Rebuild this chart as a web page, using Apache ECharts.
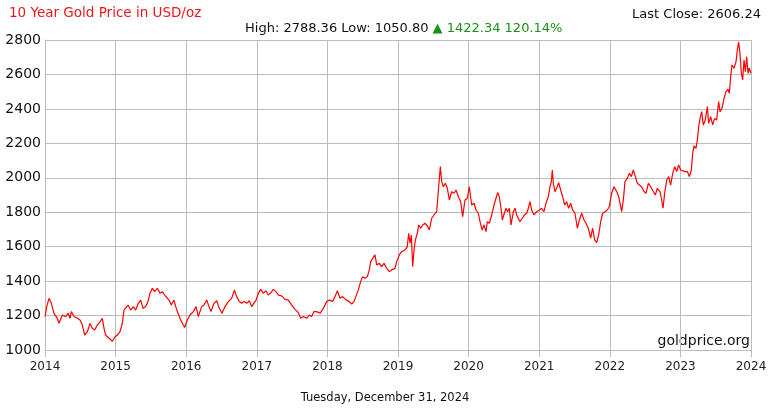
<!DOCTYPE html>
<html>
<head>
<meta charset="utf-8">
<script src="https://cdn.jsdelivr.net/npm/echarts@6/dist/echarts.min.js"></script>
<style>
html,body{margin:0;padding:0;background:#fff;}
#c{width:770px;height:410px;}
</style>
</head>
<body>
<div id="c"></div>
<script>
var chartTitle = '10 Year Gold Price in USD/oz';
var statsBlack = 'High: 2788.36 Low: 1050.80 ';
var statsGreen = '\u25B2 1422.34 120.14%';
var lastCloseText = 'Last Close: 2606.24';
var dateText = 'Tuesday, December 31, 2024';
var watermark = 'goldprice.org';
var xTickLabels = ['2014','2015','2016','2017','2018','2019','2020','2021','2022','2023','2024'];
var yTickLabels = ['1000','1200','1400','1600','1800','2000','2200','2400','2600','2800'];

var years = [
2014.000,2014.024,2014.057,2014.090,2014.128,2014.175,2014.198,2014.246,2014.293,2014.326,
2014.354,2014.373,2014.411,2014.458,2014.496,2014.529,2014.562,2014.600,2014.637,2014.670,
2014.704,2014.741,2014.779,2014.812,2014.836,2014.859,2014.907,2014.954,2014.992,2015.025,
2015.062,2015.095,2015.119,2015.143,2015.176,2015.213,2015.251,2015.284,2015.322,2015.355,
2015.388,2015.426,2015.459,2015.487,2015.520,2015.553,2015.591,2015.629,2015.662,2015.695,
2015.723,2015.756,2015.789,2015.827,2015.851,2015.884,2015.922,2015.959,2015.978,2016.016,
2016.054,2016.101,2016.139,2016.172,2016.219,2016.252,2016.290,2016.323,2016.351,2016.394,
2016.432,2016.469,2016.507,2016.550,2016.597,2016.644,2016.682,2016.715,2016.753,2016.786,
2016.823,2016.857,2016.894,2016.927,2016.951,2016.989,2017.022,2017.055,2017.093,2017.130,
2017.163,2017.201,2017.234,2017.272,2017.305,2017.352,2017.399,2017.447,2017.494,2017.541,
2017.588,2017.621,2017.659,2017.706,2017.744,2017.777,2017.810,2017.848,2017.895,2017.942,
2017.990,2018.027,2018.075,2018.108,2018.141,2018.179,2018.216,2018.264,2018.311,2018.344,
2018.377,2018.405,2018.438,2018.471,2018.500,2018.533,2018.566,2018.594,2018.613,2018.641,
2018.674,2018.698,2018.736,2018.769,2018.802,2018.840,2018.877,2018.910,2018.958,2018.981,
2019.019,2019.052,2019.099,2019.132,2019.151,2019.170,2019.189,2019.208,2019.227,2019.246,
2019.274,2019.293,2019.321,2019.349,2019.382,2019.416,2019.444,2019.477,2019.510,2019.548,
2019.576,2019.600,2019.619,2019.642,2019.670,2019.699,2019.727,2019.760,2019.793,2019.822,
2019.855,2019.888,2019.916,2019.949,2019.982,2020.010,2020.043,2020.077,2020.105,2020.138,
2020.162,2020.190,2020.218,2020.247,2020.265,2020.294,2020.327,2020.360,2020.388,2020.412,
2020.435,2020.459,2020.478,2020.506,2020.530,2020.553,2020.577,2020.601,2020.634,2020.657,
2020.681,2020.704,2020.728,2020.761,2020.789,2020.823,2020.846,2020.870,2020.893,2020.926,
2020.964,2021.002,2021.035,2021.068,2021.096,2021.129,2021.153,2021.172,2021.186,2021.200,
2021.224,2021.247,2021.276,2021.304,2021.332,2021.361,2021.389,2021.417,2021.446,2021.474,
2021.507,2021.540,2021.569,2021.602,2021.635,2021.663,2021.696,2021.729,2021.757,2021.786,
2021.814,2021.842,2021.871,2021.899,2021.932,2021.965,2021.993,2022.026,2022.060,2022.097,
2022.126,2022.145,2022.168,2022.192,2022.215,2022.248,2022.277,2022.305,2022.333,2022.362,
2022.390,2022.418,2022.451,2022.484,2022.513,2022.546,2022.579,2022.617,2022.645,2022.673,
2022.711,2022.735,2022.754,2022.777,2022.806,2022.834,2022.862,2022.891,2022.919,2022.947,
2022.975,2023.004,2023.032,2023.065,2023.098,2023.127,2023.155,2023.174,2023.193,2023.221,
2023.240,2023.259,2023.278,2023.301,2023.325,2023.353,2023.382,2023.400,2023.429,2023.457,
2023.485,2023.514,2023.542,2023.561,2023.589,2023.618,2023.646,2023.674,2023.693,2023.712,
2023.731,2023.759,2023.788,2023.806,2023.825,2023.844,2023.863,2023.882,2023.901,2023.920,
2023.939,2023.958,2023.976,2024.000
];
var prices = [
1194,1252,1300,1271,1213,1184,1155,1203,1194,1213,
1184,1223,1194,1184,1174,1145,1087,1106,1155,1126,
1116,1145,1165,1184,1126,1087,1068,1051,1077,1087,
1106,1155,1232,1242,1261,1232,1252,1232,1271,1290,
1242,1252,1281,1329,1358,1339,1358,1329,1339,1319,
1329,1290,1261,1290,1252,1213,1174,1145,1131,1174,
1203,1223,1252,1194,1252,1261,1290,1252,1223,1271,
1286,1242,1213,1252,1281,1300,1348,1310,1281,1271,
1281,1271,1286,1252,1242,1290,1329,1352,1329,1344,
1319,1333,1352,1339,1319,1314,1294,1290,1261,1236,
1217,1184,1194,1184,1203,1194,1223,1223,1213,1242,
1281,1290,1281,1310,1344,1300,1310,1291,1281,1267,
1281,1291,1349,1397,1426,1416,1426,1465,1513,1532,
1552,1494,1503,1484,1503,1474,1455,1465,1474,1513,
1552,1571,1581,1600,1678,1620,1668,1484,1581,1639,
1678,1726,1707,1726,1736,1720,1697,1765,1784,1803,
1948,2065,1978,1948,1968,1939,1871,1919,1910,1929,
1890,1861,1774,1871,1881,1948,1842,1852,1813,1794,
1745,1697,1726,1687,1745,1736,1784,1842,1881,1914,
1890,1823,1755,1794,1823,1803,1823,1726,1803,1823,
1784,1794,1745,1765,1784,1794,1823,1861,1813,1784,
1803,1813,1823,1803,1852,1890,1948,1978,2045,1968,
1919,1939,1972,1929,1890,1842,1861,1823,1852,1813,
1794,1707,1755,1794,1755,1736,1707,1649,1707,1639,
1623,1668,1745,1794,1803,1813,1832,1910,1948,1920,
1891,1852,1803,1871,1978,1997,2026,2007,2045,2007,
1968,1972,1948,1920,1910,1968,1948,1920,1900,1939,
1920,1871,1823,1910,1987,2007,1958,2026,2065,2036,
2074,2045,2055,2036,2036,2007,2045,2142,2185,2171,
2220,2297,2345,2384,2307,2336,2413,2316,2355,2307,
2345,2336,2442,2384,2403,2461,2500,2514,2490,2587,
2655,2636,2674,2742,2788,2723,2607,2568,2684,2616,
2703,2607,2636,2606
];

var seriesData = years.map(function (y, i) { return [y, prices[i]]; });
var FONT = 'DejaVu Sans';
var GRID = '#bcbcbc';

var chart = echarts.init(document.getElementById('c'), null, {renderer: 'canvas'});
chart.setOption({
  animation: false,
  backgroundColor: '#ffffff',
  title: [
    {text: chartTitle, left: 4, top: 1, textStyle: {color: '#e8191b', fontSize: 13.5, fontWeight: 'normal', fontFamily: FONT}},
    {text: '{b|' + statsBlack + '}{g|' + statsGreen + '}', left: 240, top: 17,
     textStyle: {fontWeight: 'normal', rich: {
       b: {color: '#111', fontSize: 13, fontWeight: 'normal', fontFamily: FONT},
       g: {color: '#1a901a', fontSize: 13, fontWeight: 'normal', fontFamily: FONT}
     }}},
    {text: lastCloseText, right: 4, top: 3, textStyle: {color: '#111', fontSize: 13, fontWeight: 'normal', fontFamily: FONT}}
  ],
  grid: {left: 45, right: 19, top: 40, bottom: 60, containLabel: false},
  xAxis: {
    type: 'value', min: 2014, max: 2024, interval: 1,
    axisLine: {show: true, lineStyle: {color: GRID, width: 1}},
    axisTick: {show: true, length: 7, lineStyle: {color: GRID}},
    splitLine: {show: true, lineStyle: {color: GRID, width: 1}},
    axisLabel: {
      color: '#222', fontSize: 12, fontFamily: FONT, margin: 11,
      formatter: function (v) { var i = Math.round(v - 2014); return xTickLabels[i] || ''; }
    }
  },
  yAxis: {
    type: 'value', min: 1000, max: 2800, interval: 200,
    axisLine: {show: true, lineStyle: {color: GRID, width: 1}},
    axisTick: {show: false},
    splitLine: {show: true, lineStyle: {color: GRID, width: 1}},
    axisLabel: {
      color: '#111', fontSize: 14, fontFamily: FONT, margin: 4,
      formatter: function (v) { var i = Math.round((v - 1000) / 200); return yTickLabels[i] || ''; }
    }
  },
  series: [{
    type: 'line', data: seriesData, showSymbol: false, symbol: 'none',
    lineStyle: {color: '#ff0000', width: 1.2}, itemStyle: {color: '#ff0000'},
    silent: true
  }],
  graphic: [
    {type: 'text', right: 20, top: 334, style: {text: watermark, font: '14px "DejaVu Sans"', fill: '#111'}},
    {type: 'text', left: 'center', top: 392, style: {text: dateText, font: '11.5px "DejaVu Sans"', fill: '#111'}}
  ]
});
</script>
</body>
</html>
